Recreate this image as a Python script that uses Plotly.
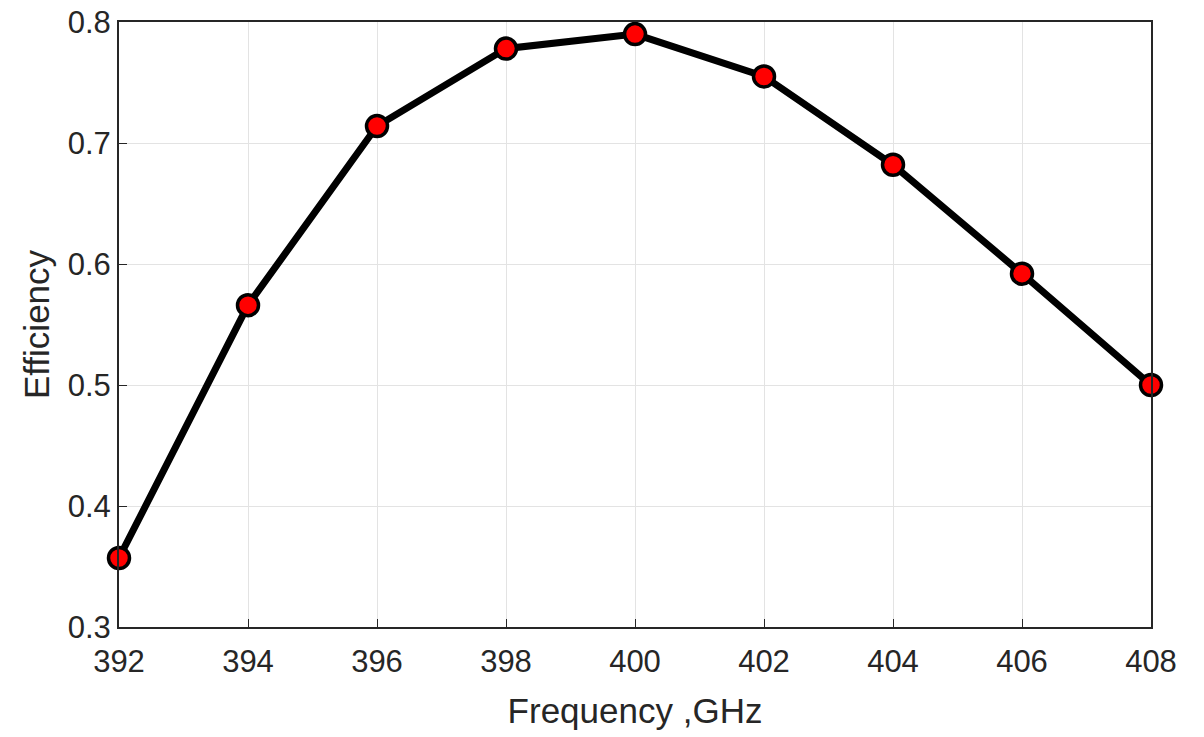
import plotly.graph_objects as go

frequency_ghz = [392, 394, 396, 398, 400, 402, 404, 406, 408]
efficiency = [0.357, 0.566, 0.714, 0.778, 0.790, 0.755, 0.682, 0.592, 0.500]
x_ticks = [392, 394, 396, 398, 400, 402, 404, 406, 408]
y_ticks = [0.3, 0.4, 0.5, 0.6, 0.7, 0.8]

fig = go.Figure()
fig.add_trace(go.Scatter(
    x=frequency_ghz, y=efficiency, mode="lines+markers",
    line=dict(color="black", width=7),
    marker=dict(size=21, color="red", line=dict(color="black", width=3.5)),
    showlegend=False, cliponaxis=False,
))

tick_font = dict(family="Liberation Sans, Arial, sans-serif", size=31, color="#262626")
title_font = dict(family="Liberation Sans, Arial, sans-serif", size=35, color="#262626")
fig.update_layout(
    width=1204, height=737,
    margin=dict(l=119, r=53, t=22, b=110, autoexpand=False),
    paper_bgcolor="white", plot_bgcolor="white",
    font=tick_font,
)
fig.update_xaxes(
    range=[392, 408], tickvals=x_ticks, ticktext=[str(v) for v in x_ticks],
    tickfont=tick_font, ticklabelstandoff=6,
    showgrid=True, gridcolor="#e3e3e3", gridwidth=1,
    showline=True, linecolor="#262626", linewidth=2, mirror=True,
    ticks="inside", ticklen=8, tickcolor="#262626",
    title=dict(text="Frequency ,GHz", font=title_font, standoff=20),
    zeroline=False, automargin=False,
)
fig.update_yaxes(
    range=[0.3, 0.8], tickvals=y_ticks, ticktext=[f"{v:.1f}" for v in y_ticks],
    tickfont=tick_font,
    showgrid=True, gridcolor="#e3e3e3", gridwidth=1,
    showline=True, linecolor="#262626", linewidth=2, mirror=True,
    ticks="inside", ticklen=8, tickcolor="#262626",
    title=dict(text="Efficiency", font=title_font, standoff=7),
    zeroline=False, automargin=False,
)
fig.write_html("out.html")
